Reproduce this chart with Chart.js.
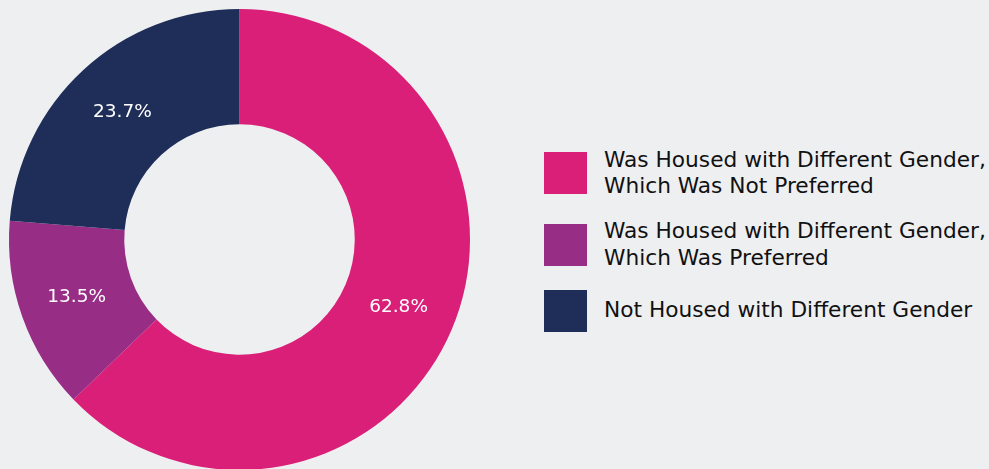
<!DOCTYPE html>
<html>
<head>
<meta charset="utf-8">
<script src="https://cdn.jsdelivr.net/npm/chart.js@4"></script>
<style>
  html, body { margin: 0; padding: 0; background: #eeeff1; overflow: hidden; }
  body { width: 989px; height: 469px; position: relative; font-family: "DejaVu Sans", sans-serif; }
  #wrap { position: absolute; left: 0; top: 0; width: 479px; height: 479px; }
  #legend { position: absolute; left: 544px; top: 146.5px; display: flex; flex-direction: column; gap: 18.5px; }
  .item { display: flex; align-items: center; }
  .box { width: 43px; height: 42px; flex: none; }
  .txt { margin-left: 17px; font-size: 21.7px; line-height: 26.5px; color: #111; white-space: nowrap; }
</style>
</head>
<body>
<div id="wrap"><canvas id="myChart"></canvas></div>
<div id="legend"></div>
<script>
// dados do gráfico
const categorias = [
  ['Was Housed with Different Gender,', 'Which Was Not Preferred'],
  ['Was Housed with Different Gender,', 'Which Was Preferred'],
  ['Not Housed with Different Gender']
]
const valores = [62.8, 13.5, 23.7]
const cores = ['#d91f78', '#972d85', '#1f2e58']

// legenda em html
const legenda = document.getElementById('legend')
categorias.forEach(function(linhas, i){
  const item = document.createElement('div')
  item.className = 'item'
  const caixa = document.createElement('div')
  caixa.className = 'box'
  caixa.style.background = cores[i]
  const texto = document.createElement('div')
  texto.className = 'txt'
  texto.innerHTML = linhas.join('<br>')
  item.appendChild(caixa)
  item.appendChild(texto)
  legenda.appendChild(item)
})

// rótulos de porcentagem dentro das fatias
const rotulos = {
  id: 'rotulos',
  afterDatasetsDraw(chart){
    const c = chart.ctx
    const meta = chart.getDatasetMeta(0)
    c.save()
    c.fillStyle = '#ffffff'
    c.font = '18.5px "DejaVu Sans", sans-serif'
    c.textAlign = 'center'
    c.textBaseline = 'middle'
    meta.data.forEach(function(arco, i){
      const p = arco.tooltipPosition()
      c.fillText(valores[i].toFixed(1) + '%', p.x, p.y)
    })
    c.restore()
  }
}

const ctx = document.getElementById('myChart')

const config = {
  type: 'doughnut',
  data: {
    labels: categorias.map(l => l.join(' ')),
    datasets: [{
      data: valores,
      backgroundColor: cores,
      borderWidth: 0
    }]
  },
  options: {
    responsive: true,
    maintainAspectRatio: false,
    animation: false,
    cutout: '50%',
    layout: { padding: 9 },
    plugins: {
      legend: { display: false },
      tooltip: { enabled: false }
    }
  },
  plugins: [rotulos]
}

const myChart = new Chart(ctx, config)
</script>
</body>
</html>
